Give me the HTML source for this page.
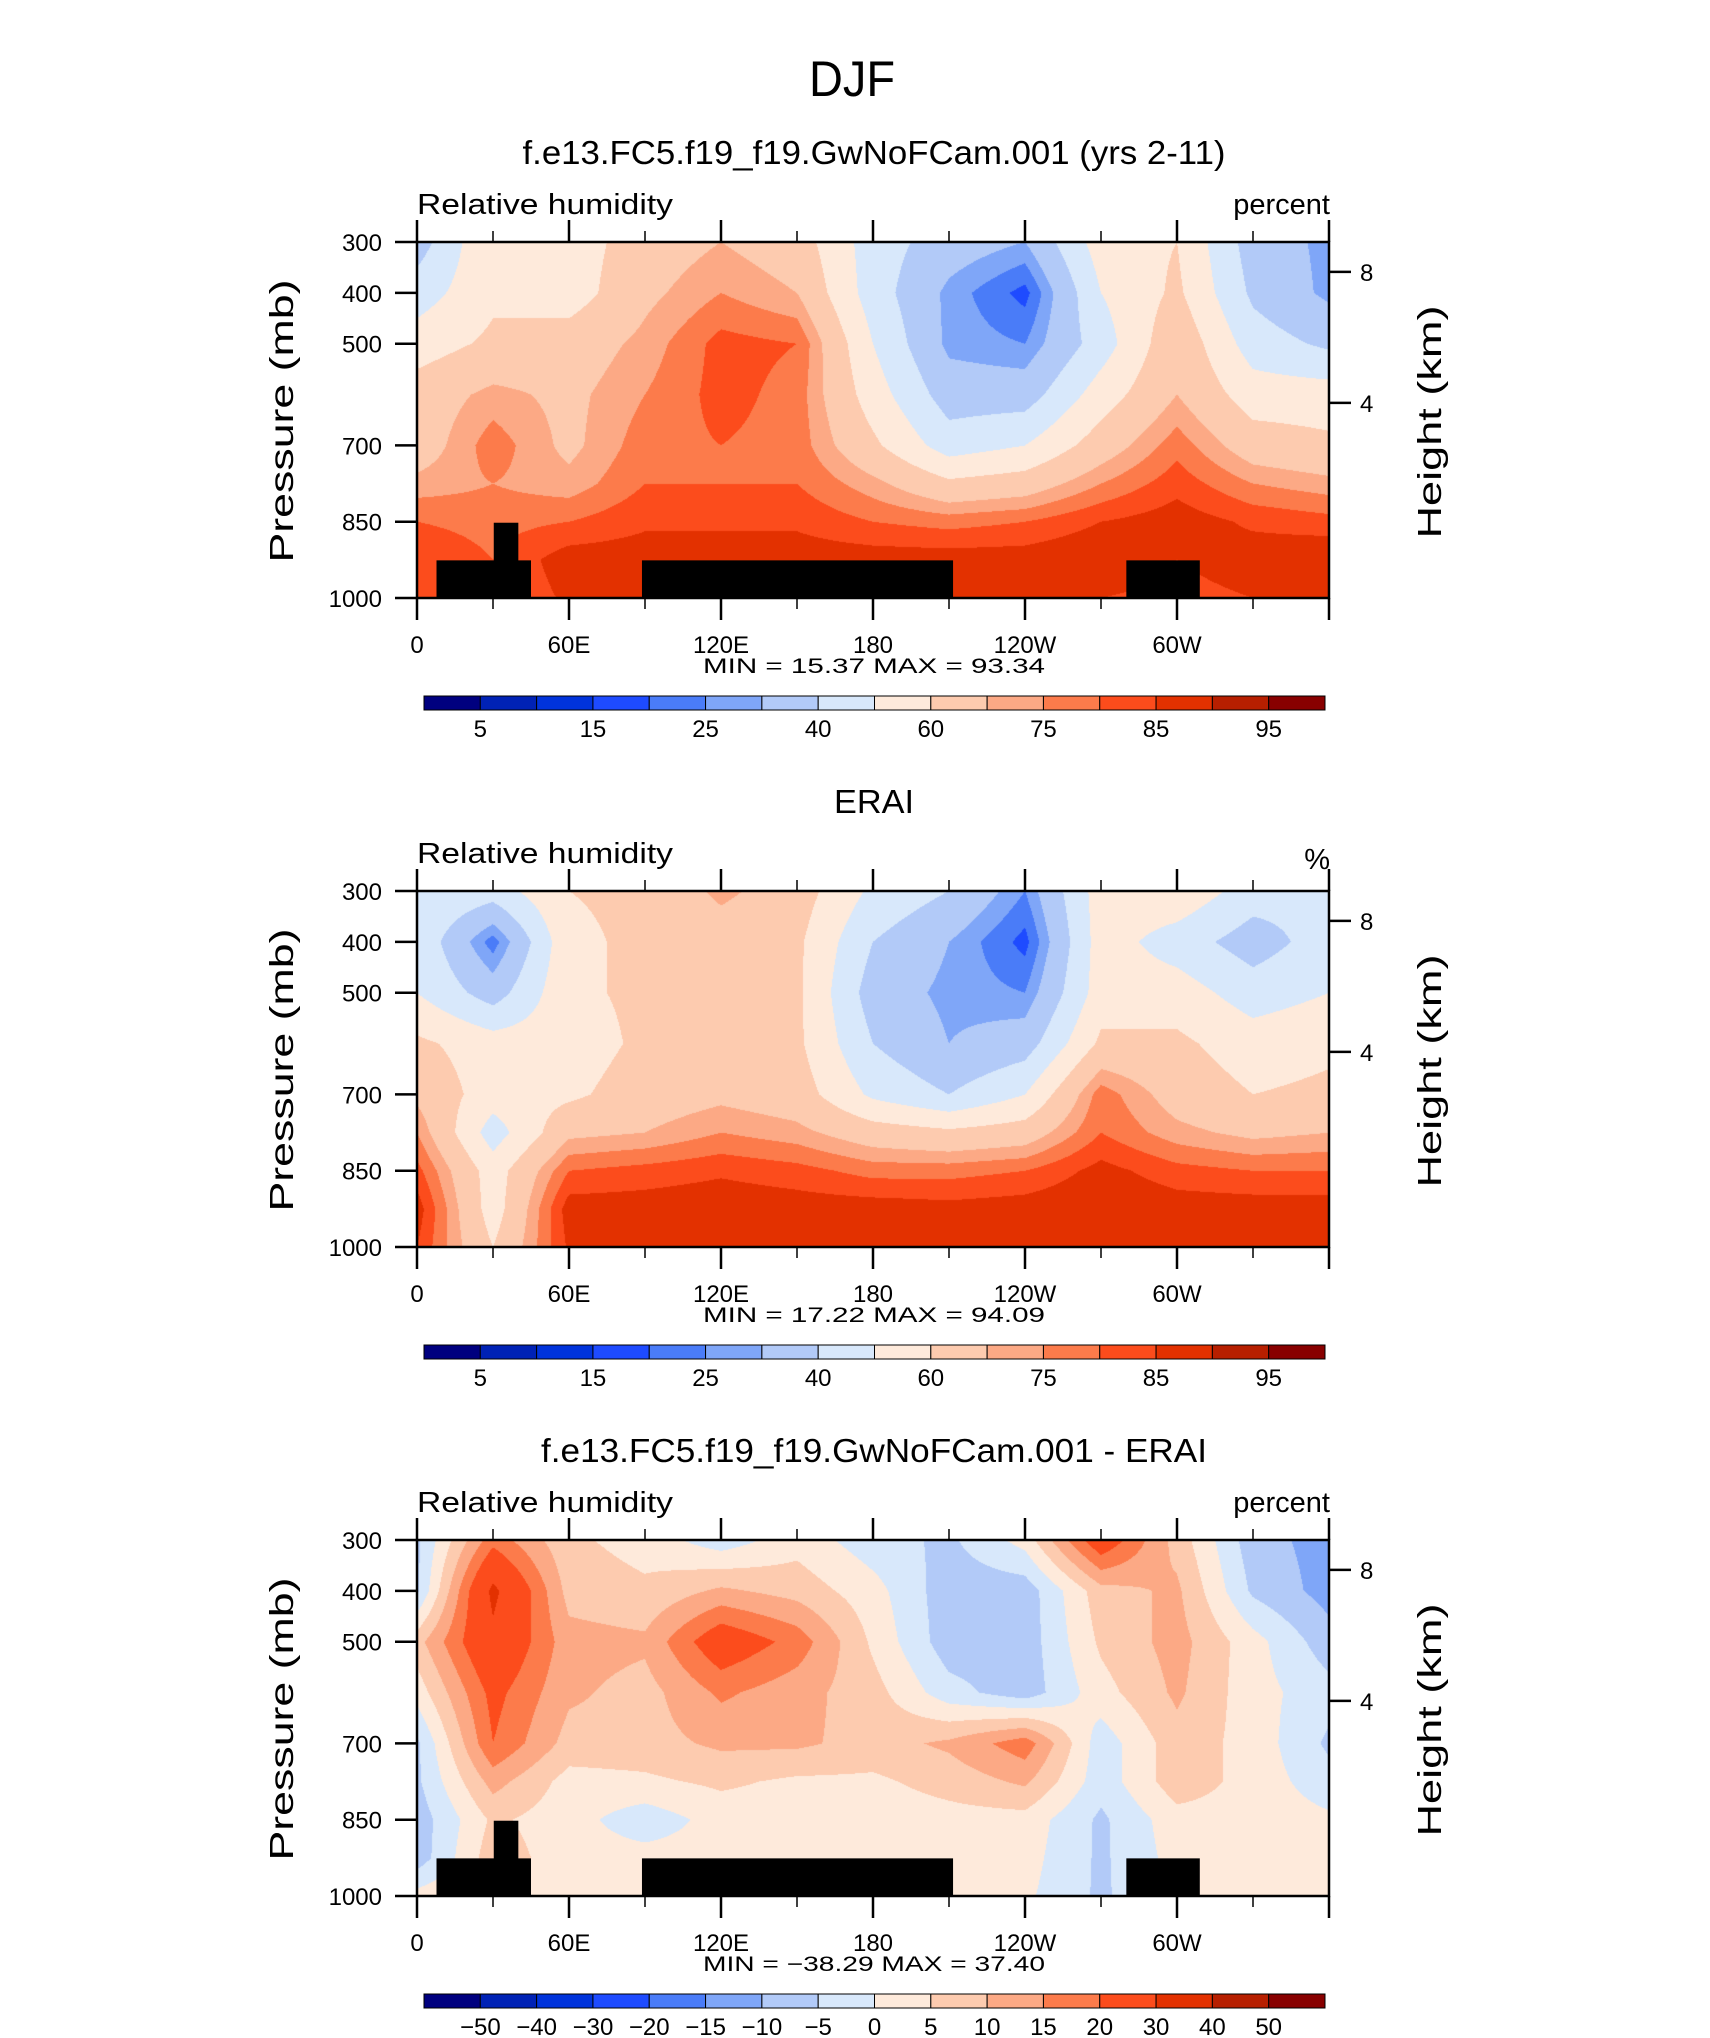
<!DOCTYPE html>
<html><head><meta charset="utf-8">
<style>
html,body{margin:0;padding:0;background:#fff;}
#wrap{position:relative;width:1710px;height:2038px;}
svg{position:absolute;left:0;top:0;}
canvas{position:absolute;}
text{font-family:"Liberation Sans",sans-serif;fill:#000;}
</style></head>
<body>
<div id="wrap">
<canvas id="c0"></canvas>
<canvas id="c1"></canvas>
<canvas id="c2"></canvas>
<svg id="svg" width="1710" height="2038"></svg>
</div>
<script>
const lons = [0,30,60,90,120,150,180,210,240,270,300,330,360];
const levels = [300,400,500,600,700,775,850,925,1000];
const rhModel = [
[35,60,55,65,70,65,45,35,30,55,60,35,28],
[45,58,55,68,75,70,45,28,18,50,62,38,28],
[55,62,65,72,82,80,50,28,25,45,68,45,38],
[65,72,68,75,82,78,55,35,35,55,70,55,55],
[65,78,68,78,80,78,62,45,50,65,78,65,62],
[72,75,72,80,80,80,72,62,65,75,83,75,72],
[80,78,80,84,84,84,80,78,80,85,88,84,82],
[85,80,88,88,88,88,88,88,88,90,85,88,90],
[85,80,86,85,85,85,85,85,85,85,83,85,85]];
const rhErai = [
[50,45,60,62,72,65,48,40,25,55,58,45,42],
[48,22,58,62,65,62,40,30,18,55,45,35,45],
[50,35,58,62,62,62,35,28,25,55,55,45,50],
[62,55,55,62,65,62,40,30,35,62,62,55,58],
[68,55,58,65,68,65,48,40,50,78,66,60,62],
[75,45,68,70,75,72,65,62,65,80,72,68,70],
[82,55,80,82,84,82,78,78,80,87,82,80,80],
[88,55,88,88,89,88,88,87,88,90,88,88,88],
[85,60,86,86,86,86,86,86,86,88,86,86,85]];
const rhDiff = [
[-6,18,6,3,-3,3,-3,-6,2,25,8,-8,-12],
[-6,32,8,6,11,8,2,-8,-8,8,11,-6,-12],
[8,28,12,11,25,18,4,-8,-8,6,12,2,-8],
[2,22,11,8,16,12,7,-3,-8,3,11,2,-3],
[-6,20,8,8,11,11,8,11,18,-3,8,3,-6],
[-6,12,3,4,6,4,4,7,11,-3,8,3,-3],
[-8,6,2,-3,2,2,2,3,3,-6,3,3,1],
[-8,8,2,2,2,2,1,2,2,-6,2,1,2],
[2,6,2,2,2,2,1,1,1,-6,1,1,2]];
const topoLon0 = [7.7,30.3,88.8,280];
const topoLon1 = [45,40,211.6,309];
const topoTopP = [926,852,926,926];
const rhBounds = [5,10,15,20,25,30,40,50,60,70,75,80,85,90,95];
const rhLabels = ['5','15','25','40','60','75','85','95'];
const diffBounds = [-50,-40,-30,-20,-15,-10,-5,0,5,10,15,20,30,40,50];
const diffLabels = ['−50','−40','−30','−20','−15','−10','−5','0','5','10','15','20','30','40','50'];
const xTickLabels = ['0','60E','120E','180','120W','60W'];
const pTicks = [300,400,500,700,850,1000];
const hTicks = [8,4];
const colors = ['#00007f','#0022b5','#0033db','#1e4bff','#4a7cf8','#7fa6f8','#b2caf8','#d8e8fb','#feeadb','#fdcbaf','#fca985','#fc7b4b','#fc4c1c','#e33100','#b71f00','#880000'];

const PL=417, PR=1329, PT=242, PB=598, DY=649;
const xS = lon => PL + lon/360*(PR-PL);
const yS = p => PT + (p-300)/700*(PB-PT);
const svg = document.getElementById('svg');
const NS='http://www.w3.org/2000/svg';
function mk(tag, attrs, txt){const e=document.createElementNS(NS,tag);for(const k in attrs)e.setAttribute(k,attrs[k]);if(txt!==undefined)e.textContent=txt;svg.appendChild(e);return e;}
function hex(c){return [parseInt(c.substr(1,2),16),parseInt(c.substr(3,2),16),parseInt(c.substr(5,2),16)];}
const rgb = colors.map(hex);
function bin(v,b){let i=0;while(i<b.length&&v>=b[i])i++;return i;}
function sample(grid,lon,p){
  let i=Math.min(lons.length-2,Math.floor(lon/30));let fx=(lon-lons[i])/30;
  let j=0;while(j<levels.length-2&&p>levels[j+1])j++;let fy=(p-levels[j])/(levels[j+1]-levels[j]);
  fx=Math.max(0,Math.min(1,fx));fy=Math.max(0,Math.min(1,fy));
  const a=grid[j][i],b=grid[j][i+1],c=grid[j+1][i],d=grid[j+1][i+1];
  return a*(1-fx)*(1-fy)+b*fx*(1-fy)+c*(1-fx)*fy+d*fx*fy;
}
const panels=[
 {grid:rhModel,bounds:rhBounds,labels:rhLabels,title:'f.e13.FC5.f19_f19.GwNoFCam.001 (yrs 2-11)',tl:703,units:'percent',topo:true,mn:'15.37',mx:'93.34',name:'model'},
 {grid:rhErai,bounds:rhBounds,labels:rhLabels,title:'ERAI',tl:80,units:'%',topo:false,mn:'17.22',mx:'94.09',name:'erai'},
 {grid:rhDiff,bounds:diffBounds,labels:diffLabels,title:'f.e13.FC5.f19_f19.GwNoFCam.001 - ERAI',tl:666,units:'percent',topo:true,mn:'−38.29',mx:'37.40',name:'difference'}];

let t=mk('text',{x:852,y:96,'font-size':50,'text-anchor':'middle',textLength:86,lengthAdjust:'spacingAndGlyphs'},'DJF');



panels.forEach((P,k)=>{
  const oy=k*DY;
  const cv=document.getElementById('c'+k);
  const W=PR-PL,H=PB-PT;
  cv.width=W;cv.height=H;cv.style.left=PL+'px';cv.style.top=(PT+oy)+'px';
  const ctx=cv.getContext('2d');const img=ctx.createImageData(W,H);
  for(let y=0;y<H;y++){const p=300+(y+0.5)/H*700;
    for(let x=0;x<W;x++){const lon=(x+0.5)/W*360;
      const c=rgb[bin(sample(P.grid,lon,p),P.bounds)];const o=(y*W+x)*4;
      img.data[o]=c[0];img.data[o+1]=c[1];img.data[o+2]=c[2];img.data[o+3]=255;}}
  ctx.putImageData(img,0,0);
  if(P.topo){for(let i=0;i<topoLon0.length;i++){
    const r=mk('rect',{x:xS(topoLon0[i]),y:yS(topoTopP[i])+oy,width:xS(topoLon1[i])-xS(topoLon0[i]),height:yS(1000)-yS(topoTopP[i]),fill:'#000'});
    
    }}
  let e;
  e=mk('text',{x:874,y:164+oy,'font-size':33,'text-anchor':'middle',textLength:P.tl,lengthAdjust:'spacingAndGlyphs'},P.title);
  
  
  e=mk('text',{x:417,y:214+oy,'font-size':29,textLength:256,lengthAdjust:'spacingAndGlyphs'},'Relative humidity');
  
  
  e=mk('text',{x:1330,y:(P.units==='%'?220:214)+oy,'font-size':29,'text-anchor':'end'},P.units);
  
  
  e=mk('rect',{x:PL,y:PT+oy,width:PR-PL,height:PB-PT,fill:'none',stroke:'#000','stroke-width':2.5});
  
  
  for(let lon=0;lon<=360;lon+=30){
    const maj=lon%60===0;const L=maj?22:11;const x=xS(lon);
    e=mk('line',{x1:x,x2:x,y1:PT+oy,y2:PT+oy-L,stroke:'#000','stroke-width':maj?2.5:1.5});
    
    
    e=mk('line',{x1:x,x2:x,y1:PB+oy,y2:PB+oy+L,stroke:'#000','stroke-width':maj?2.5:1.5});
    
    
  }
  xTickLabels.forEach((s,i)=>{
    e=mk('text',{x:xS(i*60),y:653+oy,'font-size':24,'text-anchor':'middle'},s);
    
    
  });
  pTicks.forEach(p=>{
    e=mk('line',{x1:PL-22,x2:PL,y1:yS(p)+oy,y2:yS(p)+oy,stroke:'#000','stroke-width':2.5});
    
    
    e=mk('text',{x:382,y:yS(p)+oy+9,'font-size':24,'text-anchor':'end'},String(p));
    
    
  });
  hTicks.forEach(h=>{
    const p=1059*Math.exp(-h/7.39);const y=yS(p)+oy;
    e=mk('line',{x1:PR,x2:PR+22,y1:y,y2:y,stroke:'#000','stroke-width':2.5});
    
    
    e=mk('text',{x:1360,y:y+9,'font-size':24},String(h));
    
    
  });
  e=mk('text',{x:0,y:0,'font-size':33,'text-anchor':'middle',transform:`translate(293,${421+oy}) rotate(-90)`,textLength:283,lengthAdjust:'spacingAndGlyphs'},'Pressure (mb)');
  
  
  e=mk('text',{x:0,y:0,'font-size':33,'text-anchor':'middle',transform:`translate(1441,${422+oy}) rotate(-90)`,textLength:233,lengthAdjust:'spacingAndGlyphs'},'Height (km)');
  
  
  e=mk('text',{x:874,y:673+oy,'font-size':21,'text-anchor':'middle','xml:space':'preserve',textLength:342,lengthAdjust:'spacingAndGlyphs'},`MIN =   ${P.mn}   MAX =   ${P.mx}`);
  
  
  const cx0=424,cx1=1325,cw=(cx1-cx0)/16,cy=696+oy;
  colors.forEach((c,i)=>{
    e=mk('rect',{x:cx0+i*cw,y:cy,width:cw,height:14,fill:c,stroke:'#000','stroke-width':1});
    
    
  });
  const step=P.labels.length===8?2:1;
  P.labels.forEach((s,i)=>{
    const bi=step===2?i*2:i;
    e=mk('text',{x:cx0+(bi+1)*cw,y:737+oy,'font-size':24,'text-anchor':'middle'},s);
    
    
  });
});
</script>
</body></html>
